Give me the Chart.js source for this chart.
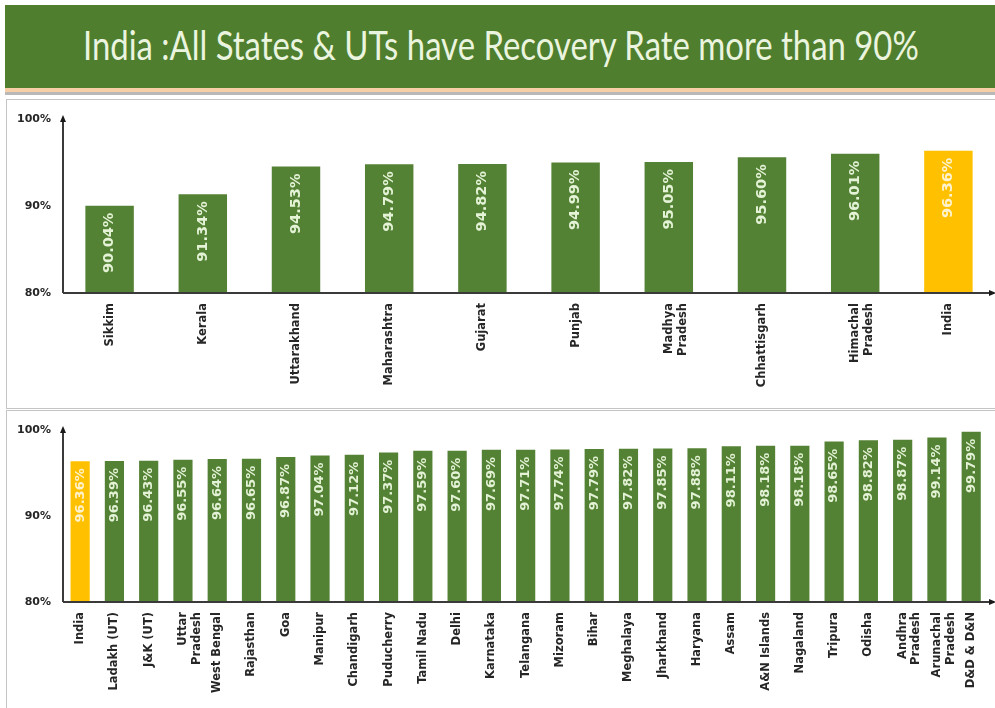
<!DOCTYPE html>
<html>
<head>
<meta charset="utf-8">
<script src="https://cdn.jsdelivr.net/npm/chart.js@4.4.0/dist/chart.umd.min.js"></script>
<style>
  body { margin: 0; width: 995px; height: 708px; background: #fff; overflow: hidden; position: relative; font-family: "DejaVu Sans", sans-serif; }
  #banner { position: absolute; left: 5px; top: 5px; width: 990px; height: 83px; background: #4f7e2e; }
  #titulo { position: absolute; left: 78px; top: 16px; white-space: nowrap;
            font-family: Lato, sans-serif; font-size: 40px; color: #eaf4df; transform-origin: left center; }
  #faixa1 { position: absolute; left: 5px; top: 88px; width: 990px; height: 4px; background: #f6cfa6; }
  #faixa2 { position: absolute; left: 5px; top: 92px; width: 990px; height: 3px; background: #b9b9b9; }
  .painel { position: absolute; left: 6px; width: 988px; border: 1px solid #c4c4c4; border-right: none; }
  #painel-topo { top: 99px; height: 308px; }
  #painel-baixo { top: 410px; height: 300px; border-bottom: none; }
  .painel canvas { position: absolute; left: 0; top: 0; }
</style>
</head>
<body>
<div id="banner"><div id="titulo">India :All States &amp; UTs have Recovery Rate more than 90%</div></div>
<div id="faixa1"></div>
<div id="faixa2"></div>
<div class="painel" id="painel-topo"><canvas id="grafico-topo" width="988" height="308"></canvas></div>
<div class="painel" id="painel-baixo"><canvas id="grafico-baixo" width="988" height="300"></canvas></div>

<script>
// Dados - gráfico de cima
const estadosTopo = ["Sikkim", "Kerala", "Uttarakhand", "Maharashtra", "Gujarat", "Punjab",
    ["Madhya", "Pradesh"], "Chhattisgarh", ["Himachal", "Pradesh"], "India"];
const taxasTopo = [90.04, 91.34, 94.53, 94.79, 94.82, 94.99, 95.05, 95.60, 96.01, 96.36];

// Dados - gráfico de baixo
const estadosBaixo = ["India", "Ladakh (UT)", "J&K (UT)", ["Uttar", "Pradesh"], "West Bengal", "Rajasthan",
    "Goa", "Manipur", "Chandigarh", "Puducherry", "Tamil Nadu", "Delhi", "Karnataka", "Telangana",
    "Mizoram", "Bihar", "Meghalaya", "Jharkhand", "Haryana", "Assam", "A&N Islands", "Nagaland",
    "Tripura", "Odisha", ["Andhra", "Pradesh"], ["Arunachal", "Pradesh"], "D&D & D&N"];
const taxasBaixo = [96.36, 96.39, 96.43, 96.55, 96.64, 96.65, 96.87, 97.04, 97.12, 97.37, 97.59, 97.60,
    97.69, 97.71, 97.74, 97.79, 97.82, 97.85, 97.88, 98.11, 98.18, 98.18, 98.65, 98.82, 98.87, 99.14, 99.79];

const ticksY = [80, 90, 100];

const VERDE = "#548235";
const AMARELO = "#ffc000";

// ajusta largura do título
const titulo = document.getElementById("titulo");
titulo.style.transform = "scaleX(" + (836 / titulo.offsetWidth) + ")";

function corBarra(nome) {
    return nome === "India" ? AMARELO : VERDE;
}

// desenha eixos com setas e rótulos dentro das barras
const pluginEixos = {
    id: "eixos",
    afterDatasetsDraw(chart, args, opts) {
        const ctx = chart.ctx;
        const area = chart.chartArea;
        const meta = chart.getDatasetMeta(0);
        // rótulos de valor
        ctx.save();
        ctx.font = "bold " + opts.fonte + "px 'DejaVu Sans'";
        ctx.textAlign = "right";
        ctx.textBaseline = "middle";
        meta.data.forEach((barra, i) => {
            const valor = chart.data.datasets[0].data[i];
            ctx.save();
            ctx.translate(barra.x, barra.y + 7);
            ctx.rotate(-Math.PI / 2);
            ctx.fillStyle = chart.data.labels[i] === "India" ? "#fff3cf" : "#e4f2d6";
            ctx.fillText(valor.toFixed(2) + "%", 0, 0);
            ctx.restore();
        });
        ctx.restore();

        // eixos
        ctx.save();
        ctx.strokeStyle = "#3a3a3a";
        ctx.fillStyle = "#1a1a1a";
        ctx.lineWidth = 2;
        ctx.beginPath();
        ctx.moveTo(area.left, area.bottom);
        ctx.lineTo(area.left, area.top);
        ctx.moveTo(area.left, area.bottom);
        ctx.lineTo(opts.fimX, area.bottom);
        ctx.stroke();
        // seta y
        ctx.beginPath();
        ctx.moveTo(area.left, area.top - 4);
        ctx.lineTo(area.left - 3, area.top + 3);
        ctx.lineTo(area.left + 3, area.top + 3);
        ctx.closePath();
        ctx.fill();
        // seta x
        ctx.beginPath();
        ctx.moveTo(opts.fimX + 4, area.bottom);
        ctx.lineTo(opts.fimX - 3, area.bottom - 3);
        ctx.lineTo(opts.fimX - 3, area.bottom + 3);
        ctx.closePath();
        ctx.fill();
        ctx.restore();
    }
};

function criarGrafico(id, labels, valores, opcoes) {
    const ctx = document.getElementById(id).getContext("2d");
    return new Chart(ctx, {
        type: "bar",
        data: {
            labels: labels,
            datasets: [{
                data: valores,
                backgroundColor: labels.map(corBarra),
                categoryPercentage: 1,
                barPercentage: opcoes.larguraBarra
            }]
        },
        options: {
            responsive: false,
            animation: false,
            events: [],
            layout: { padding: { top: opcoes.topo, right: 0, left: 0, bottom: 0 } },
            plugins: {
                legend: { display: false },
                tooltip: { enabled: false },
                eixos: { fonte: opcoes.fonteValor, fimX: 985 }
            },
            scales: {
                x: {
                    grid: { display: false, drawTicks: false },
                    border: { display: false },
                    ticks: {
                        color: "#262626",
                        font: { family: "DejaVu Sans", weight: "bold", size: 11.5 },
                        minRotation: 90,
                        maxRotation: 90,
                        autoSkip: false,
                        padding: 10
                    },
                    afterFit(escala) { escala.height = opcoes.alturaX; }
                },
                y: {
                    min: 80,
                    max: 100,
                    afterBuildTicks(escala) { escala.ticks = ticksY.map(v => ({ value: v })); },
                    grid: { display: false, drawTicks: false },
                    border: { display: false },
                    ticks: {
                        color: "#262626",
                        font: { family: "DejaVu Sans", weight: "bold", size: 11 },
                        padding: 12,
                        callback: v => v + "%"
                    },
                    afterFit(escala) { escala.width = 56; }
                }
            }
        },
        plugins: [pluginEixos]
    });
}

criarGrafico("grafico-topo", estadosTopo, taxasTopo,
    { larguraBarra: 0.52, topo: 19, alturaX: 115, fonteValor: 14.5 });
criarGrafico("grafico-baixo", estadosBaixo, taxasBaixo,
    { larguraBarra: 0.56, topo: 19, alturaX: 109, fonteValor: 13 });
</script>
</body>
</html>
